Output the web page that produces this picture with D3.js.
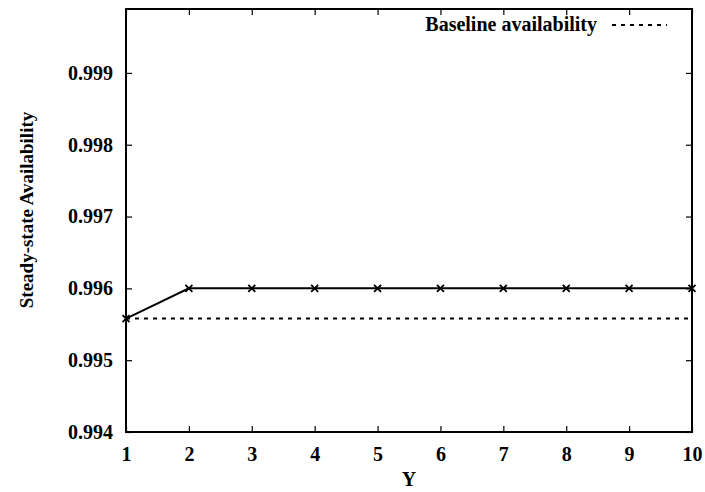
<!DOCTYPE html>
<html>
<head>
<meta charset="utf-8">
<script src="https://cdn.jsdelivr.net/npm/d3@7"></script>
<style>
  body { margin: 0; background: #fff; }
  text { font-family: "Liberation Serif", "Times New Roman", serif; font-weight: bold; fill: #000; }
</style>
</head>
<body>
<script>
// data
var yValues = [1, 2, 3, 4, 5, 6, 7, 8, 9, 10];
var availability = [0.99558, 0.996, 0.996, 0.996, 0.996, 0.996, 0.996, 0.996, 0.996, 0.996];
var baseline = 0.99558;
var yTicks = [0.994, 0.995, 0.996, 0.997, 0.998, 0.999];

var W = 705, H = 492;
var m = {left: 126, right: 13, top: 9, bottom: 60};

var svg = d3.select('body').append('svg')
    .attr('width', W).attr('height', H);

var x = d3.scaleLinear().domain([1, 10]).range([m.left, W - m.right]);
var y = d3.scaleLinear().domain([0.994, 0.99989]).range([H - m.bottom, m.top]);

var tick = 6;

// axes with gnuplot-style inward ticks, mirrored on top/right
svg.append('g')
    .attr('transform', 'translate(0,' + (H - m.bottom) + ')')
    .call(d3.axisBottom(x).tickValues(yValues).tickSize(-tick).tickPadding(15).tickFormat(d3.format('d')))
    .call(g => g.select('.domain').remove())
    .selectAll('text').style('font-size', '20px');

svg.append('g')
    .attr('transform', 'translate(0,' + m.top + ')')
    .call(d3.axisTop(x).tickValues(yValues).tickSize(-tick).tickFormat(''))
    .call(g => g.select('.domain').remove());

svg.append('g')
    .attr('transform', 'translate(' + m.left + ',0)')
    .call(d3.axisLeft(y).tickValues(yTicks).tickSize(-tick).tickPadding(13).tickFormat(d3.format('.3f')))
    .call(g => g.select('.domain').remove())
    .selectAll('text').style('font-size', '20px');

svg.append('g')
    .attr('transform', 'translate(' + (W - m.right) + ',0)')
    .call(d3.axisRight(y).tickValues(yTicks).tickSize(-tick).tickFormat(''))
    .call(g => g.select('.domain').remove());

svg.selectAll('.tick line').attr('stroke', '#000').attr('stroke-width', 1.2);

// frame
svg.append('rect')
    .attr('x', m.left).attr('y', m.top)
    .attr('width', W - m.left - m.right).attr('height', H - m.top - m.bottom)
    .attr('fill', 'none').attr('stroke', '#000').attr('stroke-width', 2);

// baseline
svg.append('line')
    .attr('x1', x(1)).attr('x2', x(10))
    .attr('y1', y(baseline)).attr('y2', y(baseline))
    .attr('stroke', '#000').attr('stroke-width', 2)
    .attr('stroke-dasharray', '4,5');

// series line
var line = d3.line().x((d, i) => x(yValues[i])).y(d => y(d));
svg.append('path')
    .datum(availability)
    .attr('d', line)
    .attr('fill', 'none').attr('stroke', '#000').attr('stroke-width', 2);

// x markers
var s = 3.5;
svg.selectAll('.pt')
    .data(availability)
    .enter().append('path')
    .attr('class', 'pt')
    .attr('d', (d, i) => {
        var cx = x(yValues[i]), cy = y(d);
        return 'M' + (cx - s) + ',' + (cy - s) + 'L' + (cx + s) + ',' + (cy + s) +
               'M' + (cx - s) + ',' + (cy + s) + 'L' + (cx + s) + ',' + (cy - s);
    })
    .attr('stroke', '#000').attr('stroke-width', 1.8);

// legend
svg.append('text')
    .attr('x', 597).attr('y', 31)
    .attr('text-anchor', 'end')
    .style('font-size', '20px')
    .text('Baseline availability');
svg.append('line')
    .attr('x1', 612).attr('x2', 667)
    .attr('y1', 25).attr('y2', 25)
    .attr('stroke', '#000').attr('stroke-width', 2)
    .attr('stroke-dasharray', '4,5');

// axis titles
svg.append('text')
    .attr('x', x(5.5)).attr('y', 486)
    .attr('text-anchor', 'middle')
    .style('font-size', '20px')
    .text('Y');

svg.append('text')
    .attr('transform', 'translate(33,210) rotate(-90)')
    .attr('text-anchor', 'middle')
    .style('font-size', '19px')
    .text('Steady-state Availability');
</script>
</body>
</html>
